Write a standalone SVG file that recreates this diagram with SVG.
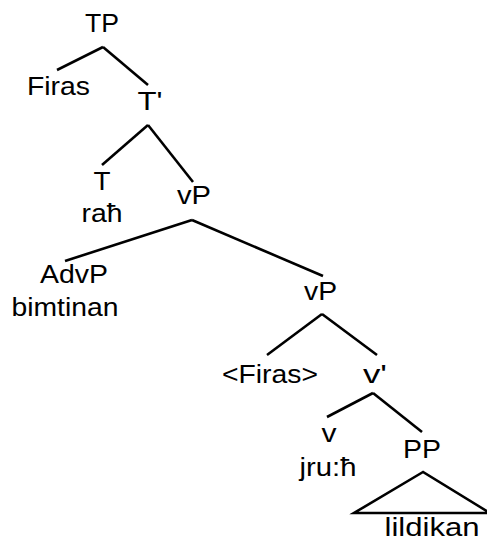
<svg xmlns="http://www.w3.org/2000/svg" width="487" height="537" viewBox="0 0 487 537">
<style>
text{font-family:"Liberation Sans",Arial,sans-serif;font-size:25px;fill:#000;text-anchor:middle}
.e{stroke:#000;stroke-width:2.6;fill:none;stroke-linecap:butt}
</style>
<rect width="487" height="537" fill="#fff"/>
<g id="connectors">
<line class="e" x1="103" y1="47" x2="57" y2="70"/>
<line class="e" x1="103" y1="47" x2="148" y2="85"/>
<line class="e" x1="148" y1="125" x2="102" y2="165"/>
<line class="e" x1="148" y1="125" x2="193" y2="182"/>
<line class="e" x1="192" y1="220" x2="65" y2="261"/>
<line class="e" x1="192" y1="220" x2="323" y2="276"/>
<line class="e" x1="322" y1="314" x2="267" y2="355"/>
<line class="e" x1="322" y1="314" x2="377" y2="355"/>
<line class="e" x1="373" y1="393" x2="327" y2="417"/>
<line class="e" x1="373" y1="393" x2="422" y2="432"/>
<polygon class="e" points="423,472 354,513 490,513"/>
</g>
<g id="TP"><text x="102" y="32" textLength="34" lengthAdjust="spacingAndGlyphs">TP</text></g>
<g id="Firas"><text x="58.5" y="95" textLength="63" lengthAdjust="spacingAndGlyphs">Firas</text></g>
<g id="Tbar"><text x="150" y="110" textLength="25" lengthAdjust="spacingAndGlyphs">T'</text></g>
<g id="T"><text x="102" y="190" textLength="17" lengthAdjust="spacingAndGlyphs">T</text><text x="102" y="222" textLength="41" lengthAdjust="spacingAndGlyphs">raħ</text></g>
<g id="vP1"><text x="194" y="204" textLength="34" lengthAdjust="spacingAndGlyphs">vP</text></g>
<g id="AdvP"><text x="74" y="283" textLength="68" lengthAdjust="spacingAndGlyphs">AdvP</text><text x="65" y="316" textLength="107" lengthAdjust="spacingAndGlyphs">bimtinan</text></g>
<g id="vP2"><text x="320.5" y="300" textLength="33" lengthAdjust="spacingAndGlyphs">vP</text></g>
<g id="FirasTrace"><text x="270" y="383" textLength="96" lengthAdjust="spacingAndGlyphs">&lt;Firas&gt;</text></g>
<g id="vbar"><text x="375" y="383" textLength="24" lengthAdjust="spacingAndGlyphs">v'</text></g>
<g id="v"><text x="329" y="442" textLength="15" lengthAdjust="spacingAndGlyphs">v</text><text x="328" y="476" textLength="57" lengthAdjust="spacingAndGlyphs">jru:ħ</text></g>
<g id="PP"><text x="422" y="458" textLength="38" lengthAdjust="spacingAndGlyphs">PP</text><text x="432" y="536" textLength="95" lengthAdjust="spacingAndGlyphs">lildikan</text></g>
</svg>
